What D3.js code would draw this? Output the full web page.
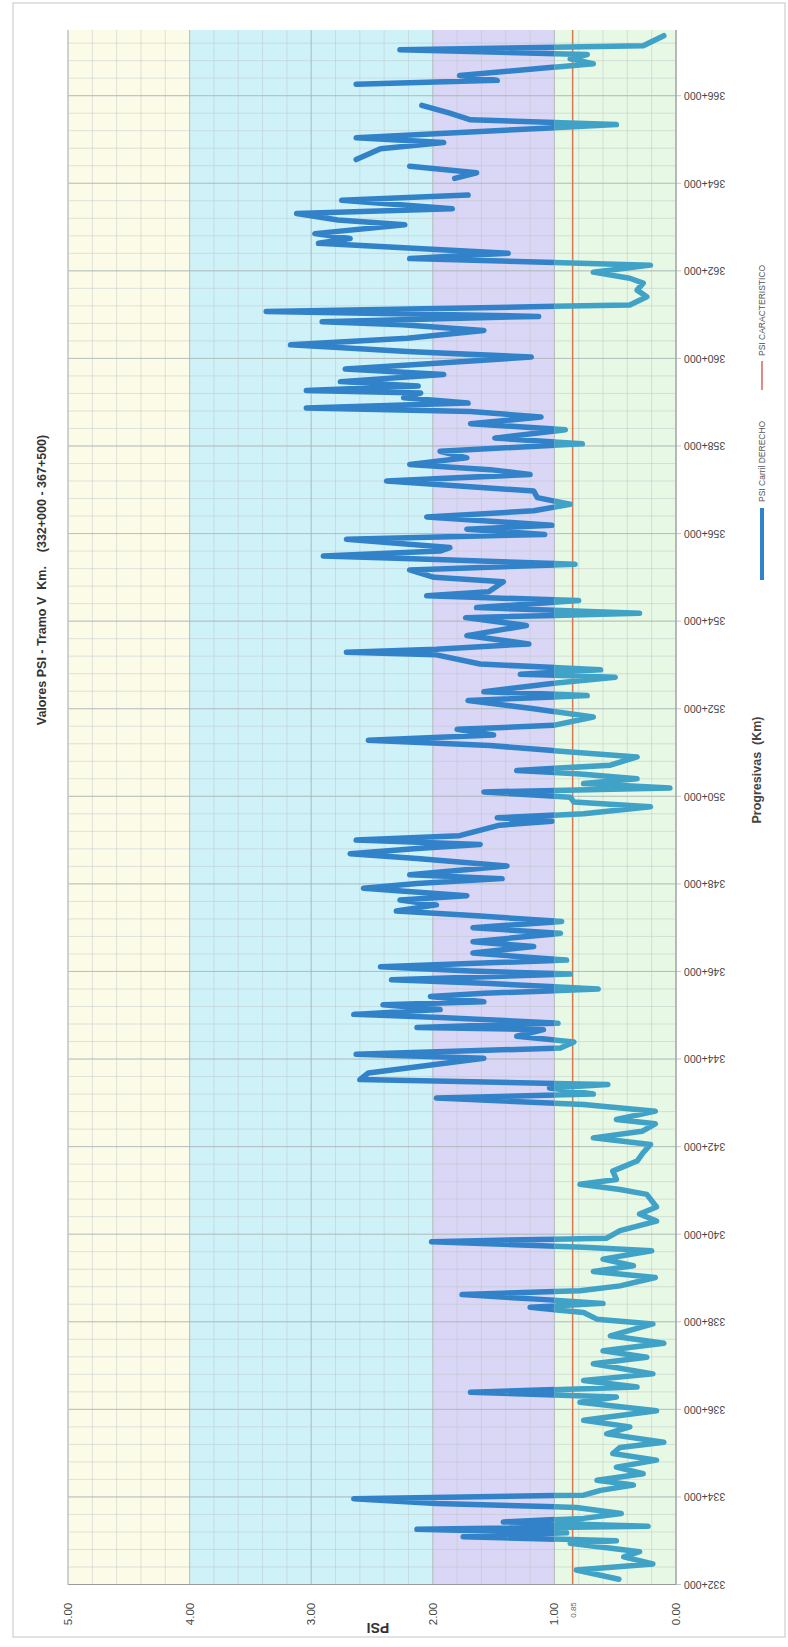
<!DOCTYPE html>
<html lang="es">
  <head>
    <meta charset="UTF-8" />
    <title>Valores PSI - Tramo V</title>
    <style>
      body { margin: 0; background: #fff; }
      svg { display: block; font-family: Arial, "Liberation Sans", sans-serif; }
    </style>
  </head>
  <body>
    <script src="https://cdn.jsdelivr.net/npm/d3@7"></script>
    <script>
      // progresiva (km) y PSI; null = tramo sin dato
      const progresivas = [
        332.12, 332.33, 332.47, 332.63, 332.75, 332.94, 333.0, 333.09, 333.18, 333.26,
        333.33, 333.43, 333.51, 333.62, 333.76, 333.85, 333.96, 334.04, 334.15, 334.27,
        334.38, 334.53, 334.68, 334.84, 334.99, 335.13, 335.25, 335.44, 335.6, 335.75,
        335.97, 336.16, 336.28, 336.39, 336.51, 336.66, 336.81, 337.04, 337.19, 337.34,
        337.51, 337.68, 337.95, 338.06, 338.21, 338.33, 338.42, 338.5, 338.62, 338.71,
        338.82, 339.01, 339.15, 339.28, 339.43, 339.62, 339.7, 339.83, 339.91, 340.08,
        340.3, 340.46, 340.62, 340.91, 341.02, 341.14, 341.25, 341.44, 341.67, 341.86,
        342.05, 342.2, 342.35, 342.52, 342.62, 342.81, 342.96, 343.11, 343.2, 343.34,
        343.42, 343.53, 343.68, 344.02, 344.11, 344.25, 344.39, 344.52, 344.67, 344.72,
        344.82, 344.95, 345.02, 345.13, 345.24, 345.31, 345.43, 345.5, 345.6, 345.73,
        345.81, 345.94, 346.01, 346.11, 346.26, 346.42, 346.57, 346.68, 346.87, 347.0,
        347.14, 347.27, 347.38, 347.52, 347.63, 347.73, 347.9, 348.01, 348.12, 348.21,
        348.41, 348.58, 348.69, 348.81, 348.9, 349.0, 349.1, 349.34, 349.43, 349.51,
        349.6, 349.76, 349.87, 349.98, 350.1, 350.19, 350.29, 350.4, 350.51, 350.59,
        350.71, 350.9, 351.05, 351.16, 351.28, 351.4, 351.53, 351.62, 351.81, 352.0,
        352.19, 352.3, 352.39, 352.57, 352.72, 352.79, 352.89, 353.02, 353.23, 353.29,
        353.36, 353.48, 353.67, 353.9, 354.08, 354.18, 354.31, 354.47, 354.58, 354.67,
        354.9, 355.0, 355.17, 355.3, 355.41, 355.49, 355.6, 355.68, 355.87, 355.98,
        356.1, 356.19, 356.38, 356.52, 356.67, 356.82, 356.97, 357.2, 357.35, 357.46,
        357.58, 357.73, 357.88, 358.05, 358.18, 358.37, 358.51, 358.66, 358.79, 358.87,
        358.98, 359.1, 359.21, 359.27, 359.37, 359.47, 359.63, 359.76, 359.89, 360.03,
        360.16, 360.31, 360.46, 360.64, 360.77, 360.84, 360.96, 361.07, 361.22, 361.41,
        361.56, 361.72, 361.83, 361.97, 362.13, 362.28, 362.4, 362.63, 362.74, 362.85,
        363.05, 363.16, 363.31, 363.42, 363.61, 363.73, 363.92, 364.11, 364.24, 364.39,
        364.46, 364.54, 364.79, 364.93, 365.04, 365.34, 365.45, 365.6, 365.78, 366.0,
        366.26, 366.35, 366.46, 366.73, 366.84, 366.94, 367.05, 367.14, 367.37
      ];
      const psiDerecho = [
        0.47, 0.82, 0.19, 0.43, 0.3, 0.87, 0.49, 1.75, 0.9, 2.13,
        0.23, 1.42, 0.76, 0.45, 0.82, 1.97, 2.65, 0.76, 0.62, 0.35,
        0.65, 0.27, 0.49, 0.16, 0.52, 0.46, 0.1, 0.57, 0.38, 0.76,
        0.16, 0.79, 0.49, 1.69, 0.32, 0.76, 0.19, 0.68, 0.24, 0.6,
        0.1, 0.54, 0.19, 0.65, 0.76, 1.2, 0.6, 1.04, 1.76, 0.79,
        0.46, 0.17, 0.68, 0.35, 0.6, 0.2, 0.76, 2.01, 0.57, 0.46,
        0.16, 0.3, 0.16, 0.24, 0.46, 0.79, 0.49, 0.52, 0.32, 0.27,
        0.21, 0.68, 0.28, 0.17, 0.49, 0.17, 0.76, 1.97, 0.68, 1.04,
        0.56, 2.6, 2.53, 1.58, 2.63, 0.95, 0.84, 1.31, 1.09, 2.13,
        0.97, 1.94, 2.65, 1.94, 2.41, 1.58, 2.02, 1.58, 0.64, 1.58,
        2.34, 0.87, 1.69, 2.43, 0.9, 1.67, 1.17, 1.67, 0.95, 1.67,
        0.94, 1.64, 2.3, 1.97, 2.27, 1.72, 2.57, 2.13, 1.43, 2.19,
        1.39, 2.13, 2.68, 2.13, 1.61, 2.63, 1.78, 1.45, 1.02, 1.47,
        0.76, 0.21, 0.84, 0.87, 1.58, 0.05, 0.76, 0.32, 0.79, 1.31,
        0.54, 0.32, 1.04, 1.53, 2.53, 1.5, 1.8, 1.01, 0.68, 1.17,
        1.71, 0.73, 1.58, 1.04, 0.5, 1.28, 0.62, 1.61, 1.97, 2.71,
        1.97, 1.21, 1.72, 1.23, 1.73, 0.3, 1.64, 0.8, 2.05, 1.54,
        1.42, 1.99, 2.19, 0.83, 1.97, 2.9, 1.94, 1.86, 2.71, 1.08,
        1.72, 1.02, 2.05, 1.17, 0.87, 1.14, 1.17, 2.38, 1.2, 1.53,
        2.19, 1.72, 1.94, 0.77, 1.49, 0.91, 1.69, 1.11, 1.69, 3.04,
        1.71, 2.24, 2.1, 3.04, 2.12, 2.76, 1.91, 2.72, 1.97, 1.19,
        2.21, 3.17, 2.21, 1.58, 2.25, 2.91, 1.13, 3.37, 0.38, 0.24,
        0.32, 0.27, 0.38, 0.68, 0.21, 2.19, 1.38, 2.94, 2.68, 2.97,
        2.23, 2.78, 3.12, 1.84, 2.75, 1.71, null, 1.82, 1.64, 2.19,
        null, 2.63, 2.43, 1.91, 2.63, 0.49, 1.69, 1.86, 2.09, null,
        2.63, 1.47, 1.78, 0.68, 0.87, 0.73, 2.27, 0.27, 0.1
      ];
      const psiCaracteristico = 0.85;

      // franjas de condicion
      const franjaDesde = [0, 1, 2, 4];
      const franjaHasta = [1, 2, 4, 5];
      const franjaColor = ["#e7f8e4", "#dad6f5", "#cff2f8", "#fbfbe8"];

      const ticksPsi = [0, 1, 2, 3, 4, 5];
      const ticksKm = d3.range(332, 367, 2);

      const ancho = 788, alto = 1647;
      const svg = d3.select("body").append("svg")
        .attr("width", ancho).attr("height", alto);

      const x = d3.scaleLinear().domain([0, 5]).range([676, 68]);
      const y = d3.scaleLinear().domain([332, 367.5]).range([1584.5, 30]);

      // marco exterior
      svg.append("rect")
        .attr("x", 13).attr("y", 3)
        .attr("width", 772).attr("height", 1634)
        .attr("fill", "none").attr("stroke", "#c4c4c4");

      const graph = svg.append("g");

      // franjas de fondo
      graph.selectAll("rect.franja")
        .data(franjaDesde)
        .enter().append("rect")
        .attr("class", "franja")
        .attr("x", (d, i) => x(franjaHasta[i]))
        .attr("y", y(367.5))
        .attr("width", (d, i) => x(d) - x(franjaHasta[i]))
        .attr("height", y(332) - y(367.5))
        .attr("fill", (d, i) => franjaColor[i]);

      // grilla menor
      graph.selectAll("line.gx")
        .data(d3.range(0, 5.001, 0.2))
        .enter().append("line")
        .attr("x1", d => x(d)).attr("x2", d => x(d))
        .attr("y1", y(367.5)).attr("y2", y(332))
        .attr("stroke", "#b9c4c6").attr("stroke-opacity", 0.45);

      graph.selectAll("line.gy")
        .data(d3.range(332, 367.5, 0.4))
        .enter().append("line")
        .attr("y1", d => y(d)).attr("y2", d => y(d))
        .attr("x1", x(5)).attr("x2", x(0))
        .attr("stroke", "#b9c4c6").attr("stroke-opacity", 0.45);

      // grilla mayor
      graph.selectAll("line.gxm")
        .data(ticksPsi)
        .enter().append("line")
        .attr("x1", d => x(d)).attr("x2", d => x(d))
        .attr("y1", y(367.5)).attr("y2", y(332))
        .attr("stroke", "#a9b2b4").attr("stroke-opacity", 0.7);

      graph.selectAll("line.gym")
        .data(ticksKm)
        .enter().append("line")
        .attr("y1", d => y(d)).attr("y2", d => y(d))
        .attr("x1", x(5)).attr("x2", x(0) + 5)
        .attr("stroke", "#a9b2b4").attr("stroke-opacity", 0.7);

      // linea PSI caracteristico
      graph.append("line")
        .attr("x1", x(psiCaracteristico)).attr("x2", x(psiCaracteristico))
        .attr("y1", y(367.5)).attr("y2", y(332))
        .attr("stroke", "#d9774f").attr("stroke-width", 1.5);

      // serie PSI carril derecho (mas clara sobre la franja 0-1)
      const datos = progresivas.map((km, i) => ({ km: km, psi: psiDerecho[i] }));

      const linea = d3.line()
        .defined(d => d.psi !== null)
        .x(d => x(d.psi))
        .y(d => y(d.km));

      const defs = svg.append("defs");
      defs.append("clipPath").attr("id", "sobreUno")
        .append("rect")
        .attr("x", 0).attr("y", 0)
        .attr("width", x(1)).attr("height", alto);
      defs.append("clipPath").attr("id", "bajoUno")
        .append("rect")
        .attr("x", x(1)).attr("y", 0)
        .attr("width", ancho - x(1)).attr("height", alto);

      graph.append("path")
        .datum(datos)
        .attr("d", linea)
        .attr("clip-path", "url(#sobreUno)")
        .attr("fill", "none")
        .attr("stroke", "#3282c9")
        .attr("stroke-width", 5.5)
        .attr("stroke-linejoin", "round")
        .attr("stroke-linecap", "round");

      graph.append("path")
        .datum(datos)
        .attr("d", linea)
        .attr("clip-path", "url(#bajoUno)")
        .attr("fill", "none")
        .attr("stroke", "#40a2c6")
        .attr("stroke-width", 5.5)
        .attr("stroke-linejoin", "round")
        .attr("stroke-linecap", "round");

      // bordes del area de trazado
      graph.append("line")
        .attr("x1", x(5)).attr("x2", x(0))
        .attr("y1", y(332)).attr("y2", y(332))
        .attr("stroke", "#9a9a9a");
      graph.append("line")
        .attr("x1", x(0)).attr("x2", x(0))
        .attr("y1", y(367.5)).attr("y2", y(332))
        .attr("stroke", "#9a9a9a");
      graph.append("line")
        .attr("x1", x(5)).attr("x2", x(5))
        .attr("y1", y(367.5)).attr("y2", y(332))
        .attr("stroke", "#c8c8c8");

      // etiquetas de progresivas (giradas 180)
      graph.selectAll("text.km")
        .data(ticksKm)
        .enter().append("text")
        .attr("class", "km")
        .attr("transform", d => `translate(${x(0) + 8},${y(d)}) rotate(180)`)
        .attr("text-anchor", "end")
        .attr("dy", "0.35em")
        .attr("font-size", 10.5)
        .attr("fill", "#444")
        .text(d => `${d}+000`);

      // etiquetas PSI (verticales)
      graph.selectAll("text.psi")
        .data(ticksPsi)
        .enter().append("text")
        .attr("class", "psi")
        .attr("transform", d => `translate(${x(d)},${1614}) rotate(-90)`)
        .attr("text-anchor", "middle")
        .attr("dy", "0.35em")
        .attr("font-size", 11.5)
        .attr("fill", "#444")
        .text(d => d.toFixed(2));

      graph.append("text")
        .attr("transform", `translate(${x(psiCaracteristico) + 1},${1610}) rotate(-90)`)
        .attr("text-anchor", "middle")
        .attr("dy", "0.35em")
        .attr("font-size", 8)
        .attr("fill", "#666")
        .text(psiCaracteristico.toFixed(2));

      // titulos
      svg.append("text")
        .attr("transform", `translate(42,580) rotate(-90)`)
        .attr("text-anchor", "middle")
        .attr("dy", "0.35em")
        .attr("font-size", 12.5)
        .attr("font-weight", "bold")
        .attr("fill", "#333")
        .attr("xml:space", "preserve")
        .text("Valores PSI - Tramo V  Km.    (332+000 - 367+500)");

      svg.append("text")
        .attr("transform", `translate(378,1628) rotate(180)`)
        .attr("text-anchor", "middle")
        .attr("dy", "0.35em")
        .attr("font-size", 14)
        .attr("font-weight", "bold")
        .attr("fill", "#333")
        .text("PSI");

      svg.append("text")
        .attr("transform", `translate(757,770) rotate(-90)`)
        .attr("text-anchor", "middle")
        .attr("dy", "0.35em")
        .attr("font-size", 12.5)
        .attr("font-weight", "bold")
        .attr("fill", "#444")
        .attr("xml:space", "preserve")
        .text("Progresivas  (Km)");

      // leyenda
      const leyenda = svg.append("g").attr("transform", "translate(762,0)");
      leyenda.append("line")
        .attr("x1", 0).attr("x2", 0)
        .attr("y1", 580).attr("y2", 508)
        .attr("stroke", "#3282c9").attr("stroke-width", 4);
      leyenda.append("text")
        .attr("transform", "translate(0,502) rotate(-90)")
        .attr("dy", "0.35em")
        .attr("font-size", 8.5)
        .attr("fill", "#555")
        .text("PSI Carril DERECHO");
      leyenda.append("line")
        .attr("x1", 0).attr("x2", 0)
        .attr("y1", 390).attr("y2", 361)
        .attr("stroke", "#e08a8a").attr("stroke-width", 2);
      leyenda.append("text")
        .attr("transform", "translate(0,356) rotate(-90)")
        .attr("dy", "0.35em")
        .attr("font-size", 8.5)
        .attr("fill", "#555")
        .text("PSI CARACTERISTICO");
    </script>
  </body>
</html>
